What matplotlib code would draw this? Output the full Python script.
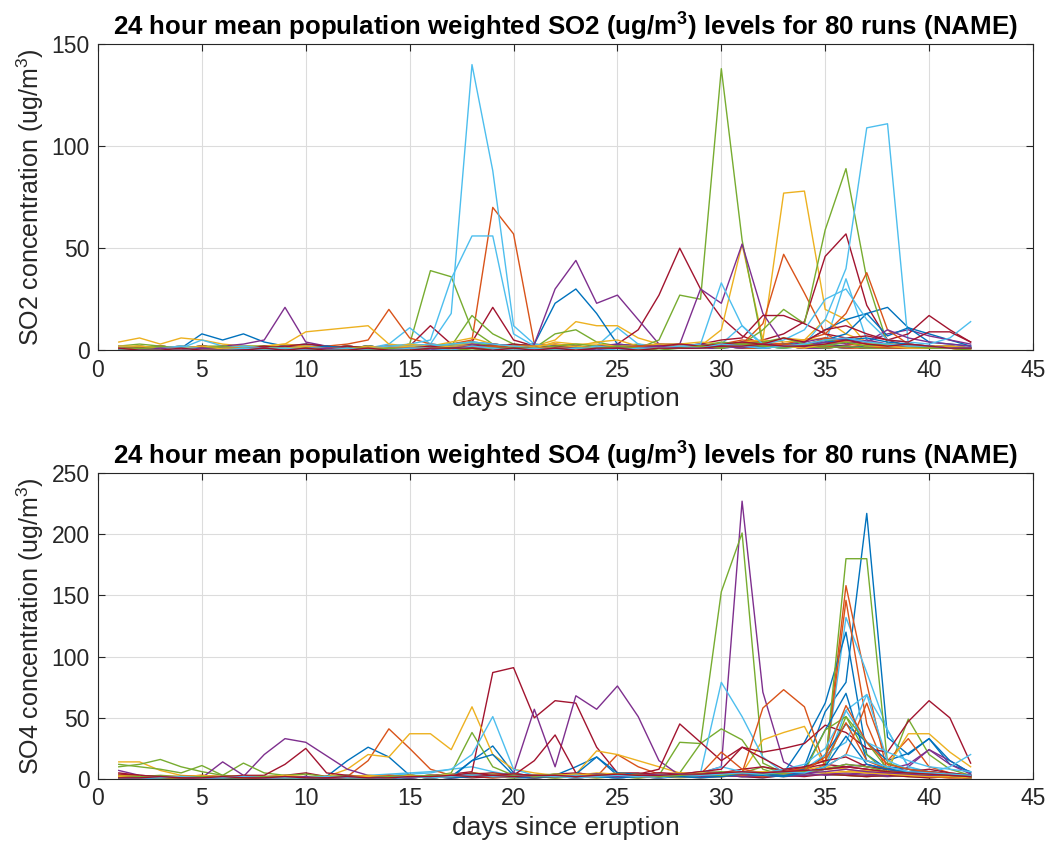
import matplotlib
matplotlib.use('Agg')
import matplotlib.pyplot as plt
import numpy as np

plt.rcParams['font.family'] = ['Liberation Sans', 'DejaVu Sans']
plt.rcParams['mathtext.fontset'] = 'custom'
plt.rcParams['mathtext.rm'] = 'Liberation Sans'
plt.rcParams['mathtext.bf'] = 'Liberation Sans:bold'

days = np.arange(1, 43)
xticks = [0, 5, 10, 15, 20, 25, 30, 35, 40, 45]
so2_yticks = [0, 50, 100, 150]
so4_yticks = [0, 50, 100, 150, 200, 250]

# matlab default line colour order
line_colors = ['#0072BD', '#D95319', '#EDB120', '#7E2F8E', '#77AC30', '#4DBEEE', '#A2142F']

# ---- SO2 runs (ug/m3), days 1..42, grouped by week ----
so2_01 = [1,1,2,1,8,5,8, 4,2,3,2,1,2,1, 2,1,2,3,2,1,1, 2,1,2,1,1,2,1, 2,1,3,2,1,2,3, 2,1,2,1,1,2,1]
so2_02 = [2,1,1,0,1,2,1, 1,2,1,1,2,1,2, 1,2,3,5,70,57,3, 2,1,2,1,1,2,1, 1,2,1,1,2,1,1, 2,1,1,2,1,1,1]
so2_03 = [4,6,3,6,5,3,2, 2,3,2,1,2,1,2, 1,2,1,3,2,1,2, 5,14,12,12,6,3,2, 1,2,3,2,1,2,2, 1,2,1,1,2,1,1]
so2_04 = [1,1,1,2,1,2,3, 5,21,4,2,1,2,1, 2,3,2,4,3,1,1, 1,2,1,1,2,1,2, 1,1,2,1,2,1,1, 2,1,1,2,1,1,0]
so2_05 = [2,3,2,1,2,2,1, 1,2,1,2,1,2,1, 3,39,36,10,3,2,1, 8,10,4,2,3,1,2, 1,2,1,1,2,1,2, 1,2,1,1,2,1,1]
so2_06 = [1,1,2,1,5,2,1, 2,1,2,1,2,1,3, 11,3,18,140,88,12,3, 2,1,2,11,3,2,1, 2,3,2,1,2,1,2, 1,2,1,1,2,1,1]
so2_07 = [1,2,1,1,2,1,2, 1,2,3,2,1,2,1, 2,12,3,4,21,5,2, 3,2,1,3,10,27,50, 30,16,7,3,2,1,2, 2,1,2,1,1,2,1]
so2_08 = [1,0,1,1,2,1,1, 2,1,2,1,1,2,1, 1,2,1,2,1,2,3, 23,30,18,3,2,1,2, 1,2,1,2,1,3,2, 1,2,1,1,2,1,1]
so2_09 = [2,1,1,2,1,1,2, 1,2,1,2,3,5,20, 6,3,2,1,2,1,1, 2,1,1,2,1,2,1, 1,2,1,1,2,1,2, 1,1,2,1,1,1,0]
so2_10 = [1,2,1,2,1,2,1, 2,3,9,10,11,12,3, 2,1,2,1,2,1,2, 1,2,1,2,1,1,2, 2,10,52,5,77,78,20, 15,3,2,1,2,1,1]
so2_11 = [1,1,2,1,1,2,1, 1,2,1,1,2,1,2, 1,2,1,2,1,2,3, 30,44,23,27,15,3,2, 1,1,2,1,2,1,1, 2,1,2,1,1,1,1]
so2_12 = [1,2,1,1,2,1,2, 2,1,2,1,1,2,1, 2,1,2,17,8,3,2, 1,2,1,2,1,5,27, 25,138,54,2,3,2,1, 2,1,1,2,1,1,1]
so2_13 = [2,1,1,2,1,1,2, 1,2,1,1,2,1,2, 3,5,35,56,56,8,2, 2,1,2,1,2,1,2, 1,3,12,2,1,2,3, 35,5,2,1,2,1,1]
so2_14 = [1,1,2,1,2,1,1, 2,1,2,1,2,1,1, 2,1,2,1,2,3,2, 1,2,1,2,1,2,3, 2,1,3,5,8,14,46, 57,22,5,2,1,2,1]
so2_15 = [0,1,1,0,1,1,1, 1,0,1,1,1,2,1, 1,2,1,1,2,1,1, 2,1,1,2,1,1,2, 1,2,3,2,3,4,10, 15,18,21,11,8,5,2]
so2_16 = [1,0,1,1,0,1,1, 1,1,0,1,1,1,2, 1,1,2,1,1,2,1, 1,2,1,2,1,1,2, 1,2,3,13,47,28,8, 3,2,1,1,2,1,1]
so2_17 = [1,1,2,1,1,1,2, 1,1,2,1,1,2,1, 3,2,4,6,3,2,2, 3,2,4,5,2,3,2, 3,2,4,3,6,5,15, 8,4,3,2,2,1,1]
so2_18 = [0,1,1,0,1,1,1, 0,1,1,2,1,1,1, 1,2,1,2,3,2,1, 2,1,2,3,2,3,3, 30,23,52,18,3,2,5, 6,4,8,10,7,5,3]
so2_19 = [1,1,2,1,1,2,1, 1,2,1,1,2,1,1, 2,1,1,2,2,1,1, 1,2,1,2,1,2,1, 1,2,3,10,20,13,59, 89,35,3,2,1,2,1]
so2_20 = [1,1,1,2,1,1,2, 1,1,2,1,1,1,2, 2,3,2,4,3,2,1, 1,2,1,2,1,2,1, 2,1,2,1,2,3,15, 40,109,111,3,2,2,1]
so2_21 = [1,1,1,1,1,1,1, 1,2,1,1,2,1,1, 1,2,1,2,3,2,1, 2,1,2,1,2,1,2, 3,5,6,17,17,13,8, 6,7,5,8,17,10,4]
so2_22 = [0,1,0,1,1,0,1, 1,0,1,2,1,0,1, 1,1,2,1,1,0,1, 1,2,1,1,0,1,1, 2,1,3,4,2,3,5, 8,18,7,11,4,3,2]
so2_23 = [1,1,1,1,0,1,1, 1,1,1,0,1,1,1, 1,1,1,1,1,2,1, 1,1,2,1,1,1,2, 2,3,5,4,3,5,8, 18,38,10,3,2,2,1]
so2_24 = [2,2,1,1,2,1,1, 1,1,2,1,1,1,1, 2,2,3,3,2,2,1, 4,3,3,2,2,3,3, 4,3,4,5,4,5,6, 5,4,3,3,2,2,1]
so2_25 = [1,0,1,1,0,1,1, 1,0,1,1,0,1,1, 1,1,1,3,2,1,1, 1,1,1,2,1,2,2, 3,2,4,3,2,4,6, 5,4,10,6,4,3,2]
so2_26 = [1,1,1,0,1,1,0, 1,1,1,0,1,1,1, 1,2,3,4,2,1,1, 2,3,2,1,2,1,1, 2,4,3,4,6,3,5, 4,3,3,2,2,1,1]
so2_27 = [1,0,1,1,1,0,1, 1,1,1,1,0,1,1, 1,2,3,4,3,2,1, 1,1,2,1,2,1,2, 3,33,12,3,5,10,25, 30,15,5,4,3,6,14]
so2_28 = [0,1,0,0,1,0,0, 1,0,1,0,1,0,1, 1,2,1,2,2,1,1, 1,2,1,1,2,2,3, 2,3,4,3,6,4,10, 12,8,5,4,9,9,4]
so2_29 = [0,0,1,0,0,1,0, 0,1,0,0,1,0,0, 1,0,1,1,0,1,0, 0,1,0,1,0,1,1, 1,2,2,1,3,2,4, 5,6,4,3,2,1,1]
so2_30 = [0,1,0,0,1,0,0, 1,0,0,1,0,1,0, 0,1,0,1,2,1,0, 1,0,1,1,2,1,1, 2,1,3,2,3,2,6, 4,3,2,2,1,1,1]
so2_31 = [1,0,1,0,0,1,1, 0,1,1,0,0,1,1, 1,1,2,2,1,0,1, 1,2,1,1,0,1,2, 1,2,2,3,2,1,3, 4,2,2,1,1,1,0]
so2_32 = [0,0,1,0,1,0,0, 1,0,0,1,1,0,0, 1,0,1,2,1,1,0, 1,1,0,1,1,2,1, 1,2,1,3,2,2,4, 3,5,3,2,2,1,1]
so2_33 = [0,1,0,1,0,0,1, 0,0,1,0,1,0,1, 0,1,1,0,1,1,1, 0,1,1,2,1,0,1, 2,1,3,2,1,3,2, 4,2,3,2,1,1,0]
so2_34 = [0,0,0,1,0,0,1, 0,1,0,0,1,0,0, 1,1,0,2,1,0,1, 0,1,1,0,1,1,2, 1,3,2,1,2,3,5, 6,4,3,2,2,1,1]
so2_35 = [1,0,0,1,0,0,0, 1,0,1,0,0,1,0, 0,1,1,1,0,1,0, 1,0,1,1,0,1,1, 1,2,2,3,2,2,3, 5,3,2,3,2,1,1]

# ---- SO4 runs (ug/m3) ----
so4_01 = [3,2,2,1,2,1,1, 2,1,2,1,3,2,1, 2,1,2,3,2,1,1, 2,1,2,1,2,1,2, 2,3,2,3,4,10,55, 79,217,34,20,33,12,6]
so4_02 = [1,2,1,1,2,1,1, 1,2,1,1,2,1,2, 1,2,1,2,1,2,1, 2,1,2,1,2,1,2, 1,2,3,2,3,4,12, 158,78,5,3,2,1,1]
so4_03 = [14,14,7,3,2,1,2, 1,2,1,2,3,2,1, 2,1,2,3,2,1,2, 1,2,1,2,1,2,1, 2,3,2,3,2,3,4, 3,2,3,2,3,2,1]
so4_04 = [7,3,2,1,2,1,1, 2,3,1,2,1,2,1, 1,2,1,2,3,2,1, 2,1,2,1,2,1,3, 5,10,227,71,14,5,3, 4,3,2,3,2,2,1]
so4_05 = [10,12,16,10,6,3,2, 1,2,1,2,1,2,1, 2,1,2,3,2,1,2, 1,2,1,2,1,2,5, 29,153,201,13,5,3,4, 3,2,3,2,1,2,1]
so4_06 = [1,2,1,1,2,1,2, 1,2,1,2,1,2,3, 4,5,8,10,6,3,2, 2,1,2,1,2,3,2, 2,3,2,1,3,5,10, 132,87,40,10,6,4,3]
so4_07 = [5,3,2,1,2,1,2, 1,3,5,2,1,2,3, 2,3,4,6,87,91,50, 64,62,26,5,5,3,2, 2,3,2,1,3,2,4, 3,2,3,2,1,2,1]
so4_08 = [2,1,1,2,1,1,2, 1,2,1,2,15,26,18, 3,2,1,15,27,5,2, 3,10,18,3,2,1,2, 1,2,3,2,5,30,62, 120,20,8,4,3,2,1]
so4_09 = [1,1,2,1,1,2,1, 2,1,2,1,2,15,41, 25,8,3,2,1,2,1, 2,1,2,20,10,4,3, 3,2,3,2,3,4,10, 146,45,5,3,2,1,1]
so4_10 = [2,1,2,1,2,1,2, 1,2,1,2,8,20,18, 37,37,24,59,20,8,5, 3,4,23,20,15,10,5, 3,4,5,32,38,43,10, 8,5,4,3,2,2,1]
so4_11 = [2,1,2,1,2,1,2, 20,33,30,19,8,3,2, 1,2,1,2,3,5,57, 10,68,57,76,51,15,3, 2,3,2,3,2,3,4, 5,4,3,10,24,15,5]
so4_12 = [12,10,8,5,11,3,13, 5,3,4,2,3,2,1, 3,2,5,38,10,3,2, 1,2,3,2,1,3,30, 29,41,32,8,3,5,10, 51,20,5,49,20,8,3]
so4_13 = [2,1,1,2,1,2,1, 1,2,1,1,2,3,4, 5,6,8,20,51,8,3, 2,1,2,1,2,1,3, 5,79,51,18,5,4,10, 56,69,40,10,5,3,2]
so4_14 = [1,2,1,1,2,1,2, 1,2,1,2,1,2,1, 2,1,2,1,2,3,15, 36,5,3,2,4,8,45, 30,15,26,22,25,29,44, 38,25,22,47,64,50,13]
so4_15 = [1,1,2,1,1,1,2, 1,1,2,1,1,2,1, 2,1,2,2,3,2,1, 2,3,2,1,2,3,2, 3,2,4,3,2,5,20, 45,30,15,21,33,15,5]
so4_16 = [1,1,1,2,1,1,1, 2,1,1,2,1,1,2, 1,2,3,2,4,3,2, 2,3,2,3,2,2,3, 3,5,5,58,73,59,10, 20,62,15,33,10,5,3]
so4_17 = [1,2,1,1,2,1,1, 1,2,1,1,2,1,2, 2,3,2,5,4,3,2, 3,4,3,5,4,3,2, 3,4,5,6,5,8,10, 8,5,10,37,37,22,10]
so4_18 = [1,1,2,1,1,14,3, 2,1,2,1,2,1,2, 1,2,3,2,3,2,2, 3,2,3,2,3,2,3, 4,3,5,4,6,5,8, 10,12,8,12,24,12,4]
so4_19 = [3,2,3,2,2,1,2, 1,2,1,2,1,2,1, 2,3,2,5,3,2,3, 2,3,4,3,2,3,4, 5,6,5,10,5,4,10, 180,180,13,8,5,4,3]
so4_20 = [1,1,2,1,1,2,1, 2,1,1,2,1,2,2, 3,2,4,3,5,3,2, 3,4,3,2,4,3,2, 3,4,5,3,5,8,20, 30,69,15,8,5,10,20]
so4_21 = [4,3,2,2,3,2,3, 3,12,25,5,3,2,2, 3,2,3,4,5,3,2, 4,5,3,4,3,5,4, 6,5,8,10,7,9,12, 10,8,5,6,8,5,3]
so4_22 = [2,1,2,1,1,2,1, 1,2,1,2,1,2,1, 2,1,2,15,20,3,2, 3,4,18,5,4,3,2, 3,5,4,3,6,8,40, 70,15,10,8,6,4,2]
so4_23 = [2,2,1,2,1,1,2, 1,2,1,2,1,2,3, 2,3,2,4,3,4,3, 3,4,3,2,3,4,5, 4,22,8,5,6,9,15, 46,15,8,5,4,3,2]
so4_24 = [3,2,1,2,3,2,2, 2,3,2,1,2,3,2, 3,2,4,3,4,3,2, 4,3,5,4,3,4,5, 4,5,6,5,4,6,8, 6,7,5,4,5,3,2]
so4_25 = [2,1,2,1,2,1,1, 2,1,2,1,1,2,1, 2,3,2,3,2,2,3, 2,3,4,3,2,3,4, 3,4,5,6,5,4,8, 12,10,8,6,5,4,3]
so4_26 = [2,2,1,2,1,2,1, 1,2,1,1,2,1,2, 3,2,3,2,3,2,3, 4,3,2,3,4,3,3, 4,5,4,6,5,6,40, 51,30,8,5,4,3,2]
so4_27 = [2,1,1,2,1,1,2, 1,1,2,1,2,1,1, 2,2,3,4,3,2,3, 2,3,4,3,2,3,4, 5,10,6,5,8,12,25, 56,30,22,15,10,8,6]
so4_28 = [2,2,1,1,2,1,1, 1,2,1,2,1,1,2, 2,1,3,5,3,4,3, 2,3,4,3,4,5,4, 6,8,26,17,8,10,15, 18,10,8,5,6,4,3]
so4_29 = [1,1,1,2,1,1,1, 2,1,1,1,2,1,1, 1,2,1,2,3,2,2, 3,2,3,2,3,2,3, 4,3,5,4,3,5,10, 35,12,8,6,5,4,3]
so4_30 = [1,2,1,1,1,2,1, 1,1,2,1,1,2,1, 2,1,2,3,2,3,2, 3,2,3,4,3,2,3, 4,5,4,5,6,7,18, 60,30,12,8,6,4,2]
so4_31 = [2,1,2,2,1,2,1, 2,1,2,2,1,2,1, 3,2,3,2,3,2,3, 3,4,3,4,3,4,3, 5,4,5,6,5,6,5, 6,5,4,4,3,3,2]
so4_32 = [1,1,2,1,1,1,2, 1,1,2,1,1,1,2, 1,2,2,3,2,3,2, 3,2,3,2,3,4,3, 4,5,4,5,6,5,6, 8,6,5,4,3,3,2]
so4_33 = [1,2,1,1,2,1,1, 2,1,1,2,1,1,2, 2,3,2,3,2,3,2, 3,2,3,4,3,2,3, 4,3,5,4,5,6,8, 12,10,6,5,4,3,2]
so4_34 = [1,1,1,2,1,1,2, 1,1,1,2,1,1,1, 2,1,2,3,2,2,3, 2,3,2,3,2,3,4, 3,4,5,4,6,5,10, 20,15,10,6,5,4,3]
so4_35 = [1,1,2,1,1,2,1, 1,2,1,1,2,1,1, 2,2,3,2,3,2,3, 3,2,3,4,3,3,4, 4,5,6,5,6,7,8, 10,8,6,5,4,3,2]

so2_runs = [so2_01, so2_02, so2_03, so2_04, so2_05, so2_06, so2_07, so2_08, so2_09, so2_10,
            so2_11, so2_12, so2_13, so2_14, so2_15, so2_16, so2_17, so2_18, so2_19, so2_20,
            so2_21, so2_22, so2_23, so2_24, so2_25, so2_26, so2_27, so2_28, so2_29, so2_30,
            so2_31, so2_32, so2_33, so2_34, so2_35]
so4_runs = [so4_01, so4_02, so4_03, so4_04, so4_05, so4_06, so4_07, so4_08, so4_09, so4_10,
            so4_11, so4_12, so4_13, so4_14, so4_15, so4_16, so4_17, so4_18, so4_19, so4_20,
            so4_21, so4_22, so4_23, so4_24, so4_25, so4_26, so4_27, so4_28, so4_29, so4_30,
            so4_31, so4_32, so4_33, so4_34, so4_35]

fig = plt.figure(figsize=(10.47, 8.5), dpi=100)
ax1 = fig.add_axes([0.0936, 0.588, 0.893, 0.36])
ax2 = fig.add_axes([0.0936, 0.0835, 0.893, 0.36])


def style_axes(ax, runs, yticks, ylabel, title):
    for i, run in enumerate(runs):
        ax.plot(days, run, color=line_colors[i % 7], lw=1.0)
    ax.set_xlim(0, 45)
    ax.set_ylim(yticks[0], yticks[-1])
    ax.set_xticks(xticks)
    ax.set_yticks(yticks)
    ax.grid(True, color='#dcdcdc', lw=0.8)
    ax.set_axisbelow(True)
    ax.tick_params(direction='in', length=5, width=0.8, colors='#262626',
                   labelsize=16.5, top=True, right=True, pad=6)
    for s in ax.spines.values():
        s.set_color('#262626')
        s.set_linewidth(0.8)
    ax.set_xlabel('days since eruption', fontsize=19, color='#262626', labelpad=4)
    ax.set_ylabel(ylabel, fontsize=18, color='#262626', labelpad=4)
    ax.set_title(title, fontsize=18.6, fontweight='bold', pad=7)


style_axes(ax1, so2_runs, so2_yticks, r'SO2 concentration (ug/m$^3$)',
           r'24 hour mean population weighted SO2 (ug/m$^\mathbf{3}$) levels for 80 runs (NAME)')
style_axes(ax2, so4_runs, so4_yticks, r'SO4 concentration (ug/m$^3$)',
           r'24 hour mean population weighted SO4 (ug/m$^\mathbf{3}$) levels for 80 runs (NAME)')

fig.savefig('out.png', dpi=100)
